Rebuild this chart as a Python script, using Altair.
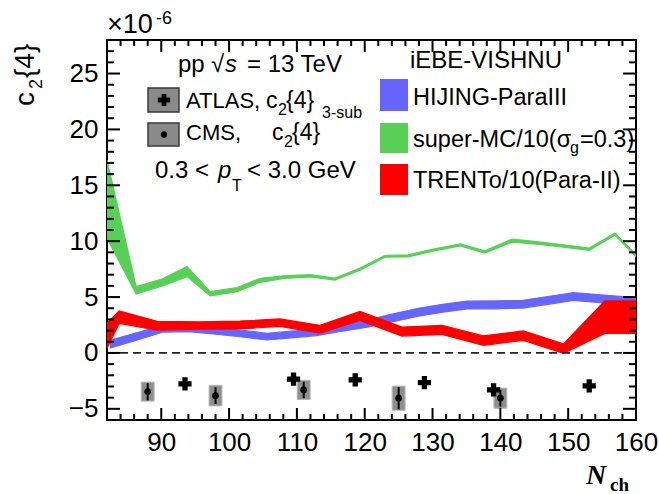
import altair as alt
import pandas as pd

# ---------------- data: c2{4} in units of 1e-6 versus N_ch ----------------
# iEBE-VISHNU, HIJING-ParaIII
hij_nch = [82.5, 86.5, 90.3, 94.0, 97.7, 101.6, 105.6, 109.2, 112.9, 116.2, 120.6,
           124.2, 127.9, 131.5, 135.1, 139.2, 143.3, 147.0, 150.8, 154.7, 158.6, 160.0]
hij_c2 = [0.8, 1.5, 2.17, 2.2, 2.0, 1.75, 1.46, 1.65, 1.85, 2.2, 2.66,
          3.15, 3.64, 4.0, 4.29, 4.3, 4.36, 4.7, 5.04, 4.85, 4.68, 4.6]
hij_err = [0.35, 0.33, 0.3, 0.3, 0.3, 0.3, 0.3, 0.3, 0.3, 0.3, 0.33,
           0.35, 0.35, 0.35, 0.35, 0.35, 0.35, 0.35, 0.35, 0.35, 0.35, 0.35]

# iEBE-VISHNU, super-MC / 10 (sigma_g = 0.3)
smc_nch = [82.0, 86.3, 90.1, 93.8, 97.2, 101.2, 104.6, 108.3, 112.0, 115.6, 119.3,
           123.0, 126.4, 130.1, 134.1, 137.7, 141.7, 145.0, 149.3, 153.1, 156.9, 160.0]
smc_c2 = [13.76, 5.6, 6.3, 7.28, 5.29, 5.66, 6.5, 6.8, 6.9, 6.6, 7.5,
          8.65, 8.68, 9.2, 9.66, 9.03, 10.05, 9.87, 9.57, 9.28, 10.64, 8.7]
smc_err = [3.5, 0.33, 0.32, 0.45, 0.19, 0.18, 0.18, 0.12, 0.1, 0.09, 0.09,
           0.09, 0.09, 0.09, 0.09, 0.1, 0.14, 0.12, 0.1, 0.1, 0.1, 0.1]

# iEBE-VISHNU, TRENTo / 10 (Para-II)
trn_nch = [82.0, 83.8, 89.4, 95.7, 101.6, 107.5, 113.4, 119.3, 125.5, 131.4,
           137.5, 143.4, 149.3, 155.4, 160.0]
trn_c2 = [1.54, 3.2, 2.43, 2.45, 2.5, 2.71, 2.12, 3.31, 1.91, 2.06,
          1.1, 1.55, 0.39, 3.2, 3.2]
trn_err = [1.12, 0.55, 0.4, 0.33, 0.35, 0.33, 0.35, 0.4, 0.4, 0.4,
           0.42, 0.42, 0.42, 1.45, 1.45]

# ATLAS, c2{4} 3-subevent
atlas_nch = [93.5, 109.5, 118.6, 128.8, 139.0, 153.1]
atlas_c2 = [-2.77, -2.35, -2.41, -2.66, -3.31, -2.95]

# CMS, c2{4}
cms_nch = [88.0, 98.0, 111.0, 125.0, 140.0]
cms_c2 = [-3.46, -3.82, -3.31, -4.05, -4.05]
cms_stat = [0.78, 0.75, 0.74, 1.0, 0.75]
cms_sys = [0.85, 0.92, 0.86, 1.08, 0.9]

x_major = [90, 100, 110, 120, 130, 140, 150, 160]
y_major = [-5, 0, 5, 10, 15, 20, 25]

# ---------------- layout / style ----------------
LEFT, TOP = 107, 40
W, H = 529, 380
X_DOMAIN = [82, 160]
Y_DOMAIN = [-6, 28]
FONT = "Liberation Sans"
SERIF = "Liberation Serif"
C_BLUE, C_GREEN, C_RED = "#6666ff", "#58d058", "#ff0000"
SYS_HALF_WIDTH = 0.95

xs = alt.Scale(domain=X_DOMAIN, nice=False, zero=False)
ys = alt.Scale(domain=Y_DOMAIN, nice=False, zero=False)

# the same axis definition is shared by every layer so the merged axis keeps its labels
x_axis = alt.Axis(values=x_major, labelFont=FONT, labelFontSize=26, labelColor="black",
                  labelPadding=9, ticks=False, tickSize=0, domain=False, grid=False,
                  title=None, labelFlush=False, labelOverlap=False)
y_axis = alt.Axis(values=y_major, labelFont=FONT, labelFontSize=26, labelColor="black",
                  labelPadding=9, ticks=False, tickSize=0, domain=False, grid=False,
                  title=None, labelFlush=False, labelOverlap=False)


def X(field):
    return alt.X(field, scale=xs, axis=x_axis)


def Y(field):
    return alt.Y(field, scale=ys, axis=y_axis)


def band_frame(n, c, e):
    return pd.DataFrame({"nch": n,
                         "lo": [a - b for a, b in zip(c, e)],
                         "hi": [a + b for a, b in zip(c, e)]})


def band(df, color):
    return alt.Chart(df).mark_area(color=color, stroke=color, strokeWidth=1.2,
                                   opacity=1, clip=True).encode(
        x=X("nch:Q"), y=Y("lo:Q"), y2="hi:Q")


hij_band = band(band_frame(hij_nch, hij_c2, hij_err), C_BLUE)
smc_band = band(band_frame(smc_nch, smc_c2, smc_err), C_GREEN)
trn_band = band(band_frame(trn_nch, trn_c2, trn_err), C_RED)

# zero reference line
ONE = pd.DataFrame({"k": [0]})
zero_line = alt.Chart(ONE).mark_rule(color="#222222", strokeWidth=1.8,
                                     strokeDash=[8, 5]).encode(
    y=alt.Y(datum=0, scale=ys, axis=y_axis), x=alt.value(0), x2=alt.value(W))

# CMS points with systematic boxes
cms_df = pd.DataFrame({
    "nch": cms_nch,
    "c2": cms_c2,
    "x0": [n - SYS_HALF_WIDTH for n in cms_nch],
    "x1": [n + SYS_HALF_WIDTH for n in cms_nch],
    "slo": [c - s for c, s in zip(cms_c2, cms_sys)],
    "shi": [c + s for c, s in zip(cms_c2, cms_sys)],
    "elo": [c - s for c, s in zip(cms_c2, cms_stat)],
    "ehi": [c + s for c, s in zip(cms_c2, cms_stat)],
})
cms_sysbox = alt.Chart(cms_df).mark_rect(fill="#8e8e8e", stroke="#b8b8b8", strokeWidth=1).encode(
    x=X("x0:Q"), x2="x1:Q", y=Y("slo:Q"), y2="shi:Q")
cms_bar = alt.Chart(cms_df).mark_rule(color="black", strokeWidth=2).encode(
    x=X("nch:Q"), y=Y("elo:Q"), y2="ehi:Q")
cms_pt = alt.Chart(cms_df).mark_point(shape="circle", filled=True, size=45,
                                      color="black", opacity=1).encode(
    x=X("nch:Q"), y=Y("c2:Q"))

atlas_df = pd.DataFrame({"nch": atlas_nch, "c2": atlas_c2})
atlas_pt = alt.Chart(atlas_df).mark_point(shape="cross", filled=True, size=175,
                                          color="black", opacity=1).encode(
    x=X("nch:Q"), y=Y("c2:Q"))

# inward ticks on all four sides
y_minor = [v for v in range(-5, 28) if v % 5 != 0]
x_minor = [v for v in range(84, 160, 2) if v % 10 != 0]


def yticks(vals, length):
    df = pd.DataFrame({"v": vals})
    left = alt.Chart(df).mark_rule(color="black", strokeWidth=2).encode(
        y=Y("v:Q"), x=alt.value(0), x2=alt.value(length))
    right = alt.Chart(df).mark_rule(color="black", strokeWidth=2).encode(
        y=Y("v:Q"), x=alt.value(W - length), x2=alt.value(W))
    return [left, right]


def xticks(vals, length):
    df = pd.DataFrame({"v": vals})
    bottom = alt.Chart(df).mark_rule(color="black", strokeWidth=2).encode(
        x=X("v:Q"), y=alt.value(H - length), y2=alt.value(H))
    top = alt.Chart(df).mark_rule(color="black", strokeWidth=2).encode(
        x=X("v:Q"), y=alt.value(0), y2=alt.value(length))
    return [bottom, top]


ticks = (yticks(y_major, 13) + yticks(y_minor, 7)
         + xticks(x_major[:-1], 12) + xticks(x_minor, 6))


# ---------------- text and legends ----------------
def txt(s, x, y, size=23, font=FONT, **kw):
    return alt.Chart(ONE).mark_text(text=s, x=x - LEFT, y=y - TOP, fontSize=size, font=font,
                                    align="left", baseline="alphabetic", color="black", **kw)


def box(x0, x1, y0, y1, fill, stroke=None):
    kw = {"stroke": stroke, "strokeWidth": 1.5} if stroke else {}
    return alt.Chart(ONE).mark_rect(fill=fill, x=x0 - LEFT, x2=x1 - LEFT,
                                    y=y0 - TOP, y2=y1 - TOP, **kw)


texts = [
    # exponent of the y axis
    txt("×10", 107, 33, size=27),
    txt("-6", 156, 24, size=18),
    # y title c2{4}
    txt("c", 34, 106, size=28, angle=270),
    txt("2", 42, 89, size=18, angle=270),
    txt("{4}", 34, 78, size=28, angle=270),
    # x title N_ch
    txt("N", 586, 484, size=28, font=SERIF, fontStyle="italic", fontWeight="bold"),
    txt("ch", 610, 491, size=19, font=SERIF, fontWeight="bold"),
    # collision system
    txt("pp", 178, 72, size=24),
    txt("√", 211, 72, size=24),
    txt("s", 225, 72, size=24, fontStyle="italic"),
    txt("= 13 TeV", 247, 72, size=24),
    # experimental legend
    txt("ATLAS,", 186, 108, size=22),
    txt("c", 266, 108),
    txt("2", 278, 115, size=16),
    txt("{4}", 286, 108),
    txt("3-sub", 322, 118, size=16),
    txt("CMS,", 186, 140, size=22),
    txt("c", 272, 140),
    txt("2", 284, 147, size=16),
    txt("{4}", 292, 140),
    txt("0.3 <", 155, 178, size=24),
    txt("p", 218, 178, size=24, fontStyle="italic"),
    txt("T", 232, 191, size=16),
    txt("< 3.0 GeV", 247, 178, size=24),
    # model legend
    txt("iEBE-VISHNU", 410, 68, size=24),
    txt("HIJING-ParaIII", 413, 105, size=23.5),
    txt("super-MC/10(σ", 413, 147, size=23.5),
    txt("g", 570, 153, size=16),
    txt("=0.3)", 580, 147, size=23.5),
    txt("TRENTo/10(Para-II)", 413, 188, size=23.5),
]

legend_marks = [
    box(148, 179, 88, 112, "#8a8a8a", "#3a3a3a"),
    box(148, 179, 123, 146, "#8a8a8a", "#3a3a3a"),
    alt.Chart(ONE).mark_point(shape="cross", filled=True, size=150, color="black", opacity=1,
                              x=164 - LEFT, y=100 - TOP),
    alt.Chart(ONE).mark_point(shape="circle", filled=True, size=40, color="black", opacity=1,
                              x=164 - LEFT, y=134.5 - TOP),
    box(380, 408, 79, 111, C_BLUE),
    box(380, 408, 123, 153, C_GREEN),
    box(380, 408, 164, 195, C_RED),
]

chart = alt.layer(
    hij_band, smc_band, trn_band, zero_line,
    cms_sysbox, cms_bar, cms_pt, atlas_pt,
    *ticks, *legend_marks, *texts,
).properties(
    width=W, height=H,
    padding={"left": LEFT, "top": TOP, "right": 659 - LEFT - W, "bottom": 494 - TOP - H},
    autosize=alt.AutoSizeParams(type="none"),
    background="white",
).configure_view(stroke="black", strokeWidth=2)

chart.save("out.html", embed_options={"renderer": "svg", "actions": False})
